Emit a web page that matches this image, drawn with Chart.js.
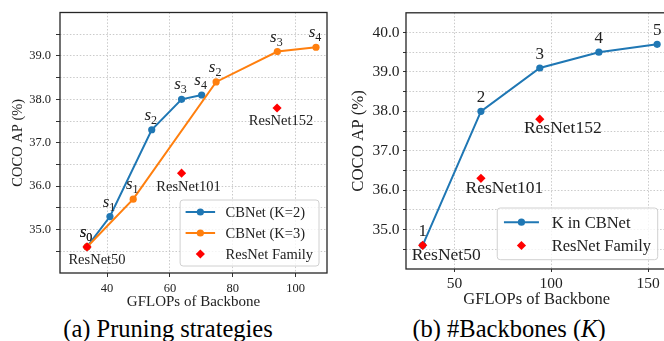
<!DOCTYPE html>
<html>
<head>
<meta charset="utf-8">
<script src="https://cdn.jsdelivr.net/npm/chart.js@4.4.0/dist/chart.umd.min.js"></script>
<style>
  html, body { margin: 0; padding: 0; background: #fff; overflow: hidden; width: 664px; height: 341px; }
  #chartA { position: absolute; left: 0; top: 0; }
  #chartB { position: absolute; left: 332px; top: 0; }
  .cap { position: absolute; top: 315px; line-height: 27px; font-family: "Liberation Serif", "Times New Roman", serif;
         font-size: 24.5px; color: #000; white-space: nowrap; transform: translateX(-50%); }
</style>
</head>
<body>
<canvas id="chartA" width="332" height="312"></canvas>
<canvas id="chartB" width="340" height="312"></canvas>
<div class="cap" style="left:168px">(a) Pruning strategies</div>
<div class="cap" style="left:509px">(b) #Backbones (<i>K</i>)</div>
<script>
// --- datos ---
const resnetNames = ["ResNet50", "ResNet101", "ResNet152"];
const resnetGflops = [33.6, 63.7, 94.1];
const resnetAP = [34.6, 36.3, 37.8];

// (a) pruning: s0..s4
const k2Gflops = [33.6, 40.9, 54.2, 63.7, 70.1];
const k2AP = [34.6, 35.3, 37.3, 38.0, 38.1];
const k3Gflops = [33.6, 48.3, 74.7, 94.2, 106.5];
const k3AP = [34.6, 35.7, 38.4, 39.1, 39.2];
const stageTags = ["0", "1", "2", "3", "4"];

// (b) número de backbones
const kTags = ["1", "2", "3", "4", "5"];
const kGflops = [33.6, 63.7, 94.1, 124.6, 154.7];
const kAP = [34.6, 38.0, 39.1, 39.5, 39.7];

// ticks
const xTicksA = [40, 60, 80, 100];
const yTicksA = [34.5, 35, 35.5, 36, 36.5, 37, 37.5, 38, 38.5, 39, 39.5];
const xTicksB = [50, 100, 150];
const yTicksB = [34.5, 35, 35.5, 36, 36.5, 37, 37.5, 38, 38.5, 39, 39.5, 40];

const BLUE = "#1f77b4", ORANGE = "#ff7f0e", RED = "#ff0000", INK = "#222222";
const SERIF = '"Liberation Serif", "Times New Roman", serif';

Chart.defaults.font.family = SERIF;
Chart.defaults.color = INK;

function pts(xs, ys) {
  return xs.map((x, i) => ({ x: x, y: ys[i] }));
}

function lineSet(label, xs, ys, color, tags, order) {
  return {
    label: label, data: pts(xs, ys), showLine: true, tension: 0,
    borderColor: color, backgroundColor: color, borderWidth: 2,
    pointRadius: 3.6, pointHoverRadius: 3.6, pointBorderWidth: 0,
    pointBackgroundColor: color, tags: tags, order: order
  };
}

function resnetSet() {
  return {
    label: "ResNet Family", data: pts(resnetGflops, resnetAP), showLine: false,
    pointStyle: "rectRot", pointRadius: 4.6, pointHoverRadius: 4.6, pointBorderWidth: 0,
    pointBackgroundColor: RED, backgroundColor: RED, borderColor: RED,
    names: resnetNames, order: 0
  };
}

// marco, etiquetas de puntos y leyenda
const decor = {
  id: "decor",
  afterDatasetsDraw(chart, args, o) {
    const ctx = chart.ctx, a = chart.chartArea;
    ctx.save();
    ctx.strokeStyle = "#262626";
    ctx.lineWidth = 1.3;
    ctx.strokeRect(a.left, a.top, a.right - a.left, a.bottom - a.top);

    ctx.fillStyle = INK;
    chart.data.datasets.forEach((ds, di) => {
      const meta = chart.getDatasetMeta(di);
      if (ds.tags) {
        meta.data.forEach((p, i) => {
          if (o.subscript) {
            ctx.font = "italic " + o.tagSize + "px " + SERIF;
            const ws = ctx.measureText("s").width;
            ctx.font = o.subSize + "px " + SERIF;
            const wn = ctx.measureText(ds.tags[i]).width;
            const x0 = p.x - (ws + wn) / 2 - 1;
            const base = p.y - o.tagDy;
            ctx.textAlign = "left";
            ctx.textBaseline = "alphabetic";
            ctx.font = "italic " + o.tagSize + "px " + SERIF;
            ctx.fillText("s", x0, base);
            ctx.font = o.subSize + "px " + SERIF;
            ctx.fillText(ds.tags[i], x0 + ws, base + 4);
          } else {
            ctx.font = o.tagSize + "px " + SERIF;
            ctx.textAlign = "center";
            ctx.textBaseline = "alphabetic";
            ctx.fillText(ds.tags[i], p.x, p.y - o.tagDy);
          }
        });
      }
      if (ds.names) {
        ctx.font = o.nameSize + "px " + SERIF;
        ctx.textAlign = "center";
        ctx.textBaseline = "middle";
        meta.data.forEach((p, i) => {
          const off = o.nameOffsets[i];
          ctx.fillText(ds.names[i], p.x + off[0], p.y + off[1]);
        });
      }
    });
    ctx.restore();
  },
  afterDraw(chart, args, o) {
    const ctx = chart.ctx, a = chart.chartArea, L = o.legend;
    const items = chart.data.datasets.slice().sort((p, q) => (p.legendRank - q.legendRank));
    ctx.save();
    ctx.font = L.size + "px " + SERIF;
    let maxW = 0;
    items.forEach(ds => { maxW = Math.max(maxW, ctx.measureText(ds.label).width); });
    const right = a.right - L.right, bottom = a.bottom - L.bottom;
    const w = L.textX + maxW + L.padRight;
    const h = L.padY * 2 + L.row * (items.length - 1);
    const left = right - w, top = bottom - h;
    ctx.beginPath();
    ctx.roundRect(left, top, w, h, 3);
    ctx.fillStyle = "rgba(255,255,255,0.8)";
    ctx.fill();
    ctx.strokeStyle = "#d0d0d0";
    ctx.lineWidth = 1;
    ctx.stroke();
    items.forEach((ds, i) => {
      const cy = top + L.padY + L.row * i;
      const mx = left + (L.lineX0 + L.lineX1) / 2;
      if (ds.showLine) {
        ctx.strokeStyle = ds.borderColor;
        ctx.lineWidth = 2;
        ctx.beginPath();
        ctx.moveTo(left + L.lineX0, cy);
        ctx.lineTo(left + L.lineX1, cy);
        ctx.stroke();
        ctx.fillStyle = ds.borderColor;
        ctx.beginPath();
        ctx.arc(mx, cy, 3.6, 0, Math.PI * 2);
        ctx.fill();
      } else {
        ctx.fillStyle = RED;
        ctx.beginPath();
        ctx.moveTo(mx, cy - 4.6);
        ctx.lineTo(mx + 4.6, cy);
        ctx.lineTo(mx, cy + 4.6);
        ctx.lineTo(mx - 4.6, cy);
        ctx.closePath();
        ctx.fill();
      }
      ctx.fillStyle = INK;
      ctx.textAlign = "left";
      ctx.textBaseline = "middle";
      ctx.fillText(ds.label, left + L.textX, cy + 1);
    });
    ctx.restore();
  }
};

function scales(c) {
  return {
    x: {
      type: "linear", min: c.xMin, max: c.xMax,
      afterBuildTicks: s => { s.ticks = c.xTicks.map(v => ({ value: v })); },
      afterFit: s => { s.height = c.xHeight; },
      ticks: { autoSkip: false, maxRotation: 0, padding: c.xPad, color: INK,
               font: { size: c.tickSize }, callback: v => String(v) },
      grid: { color: "#c4c4c4", lineWidth: 0.9, tickColor: "#333", tickLength: c.tickLen,
              tickWidth: 1, tickBorderDash: [] },
      border: { display: false, dash: [1.5, 1.8] },
      title: { display: true, text: "GFLOPs of Backbone", color: INK,
               font: { size: c.xTitleSize }, padding: { top: 0, bottom: c.xTitlePad } }
    },
    y: {
      type: "linear", min: c.yMin, max: c.yMax,
      afterBuildTicks: s => { s.ticks = c.yTicks.map(v => ({ value: v })); },
      afterFit: s => { s.width = c.yWidth; },
      ticks: { autoSkip: false, padding: c.yPad, color: INK, font: { size: c.tickSize },
               callback: v => (Math.abs(v - Math.round(v)) < 1e-6 ? v.toFixed(1) : "") },
      grid: { color: "#c4c4c4", lineWidth: 0.9, tickColor: "#333", tickLength: c.tickLen,
              tickWidth: 1, tickBorderDash: [] },
      border: { display: false, dash: [1.5, 1.8] },
      title: { display: true, text: "COCO AP (%)", color: INK,
               font: { size: c.yTitleSize }, padding: { top: c.yTitlePad, bottom: 0 } }
    }
  };
}

// (a)
const dsA = [
  resnetSet(),
  lineSet("CBNet (K=3)", k3Gflops, k3AP, ORANGE, stageTags, 1),
  lineSet("CBNet (K=2)", k2Gflops, k2AP, BLUE, stageTags, 2)
];
dsA[2].legendRank = 0; dsA[1].legendRank = 1; dsA[0].legendRank = 2;

new Chart(document.getElementById("chartA"), {
  type: "scatter",
  data: { datasets: dsA },
  plugins: [decor],
  options: {
    responsive: false, animation: false,
    layout: { padding: { left: 0, right: 5, top: 8, bottom: 0 } },
    scales: scales({
      xMin: 25, xMax: 110, xTicks: xTicksA, xHeight: 39, xPad: 4,
      yMin: 34, yMax: 40, yTicks: yTicksA, yWidth: 60, yPad: 5,
      tickSize: 12.5, tickLen: 4, xTitleSize: 15, xTitlePad: 1, yTitleSize: 14.5, yTitlePad: 9
    }),
    plugins: {
      legend: { display: false }, tooltip: { enabled: false },
      decor: {
        subscript: true, tagSize: 17, subSize: 12, tagDy: 10,
        nameSize: 14.5, nameOffsets: [[10, 13], [7, 14], [4, 13]],
        legend: { size: 14.5, right: 8, bottom: 7, row: 21, padY: 12,
                  lineX0: 5.5, lineX1: 35, textX: 45.5, padRight: 6 }
      }
    }
  }
});

// (b)
const dsB = [
  resnetSet(),
  lineSet("K in CBNet", kGflops, kAP, BLUE, kTags, 1)
];
dsB[1].legendRank = 0; dsB[0].legendRank = 1;

new Chart(document.getElementById("chartB"), {
  type: "scatter",
  data: { datasets: dsB },
  plugins: [decor],
  options: {
    responsive: false, animation: false,
    layout: { padding: { left: 0, right: 4, top: 9.5, bottom: 0 } },
    scales: scales({
      xMin: 25, xMax: 160, xTicks: xTicksB, xHeight: 43, xPad: 3,
      yMin: 34, yMax: 40.5, yTicks: yTicksB, yWidth: 74, yPad: 3.5,
      tickSize: 15.5, tickLen: 3, xTitleSize: 16.5, xTitlePad: 2, yTitleSize: 16.8, yTitlePad: 17
    }),
    plugins: {
      legend: { display: false }, tooltip: { enabled: false },
      decor: {
        subscript: false, tagSize: 17, tagDy: 9,
        nameSize: 17.5, nameOffsets: [[23.5, 10], [23.5, 10], [23, 9.5]],
        legend: { size: 16.5, right: 9.7, bottom: 9.3, row: 23.3, padY: 14.2,
                  lineX0: 6.7, lineX1: 41.7, textX: 54.4, padRight: 6.6 }
      }
    }
  }
});
</script>
</body>
</html>
